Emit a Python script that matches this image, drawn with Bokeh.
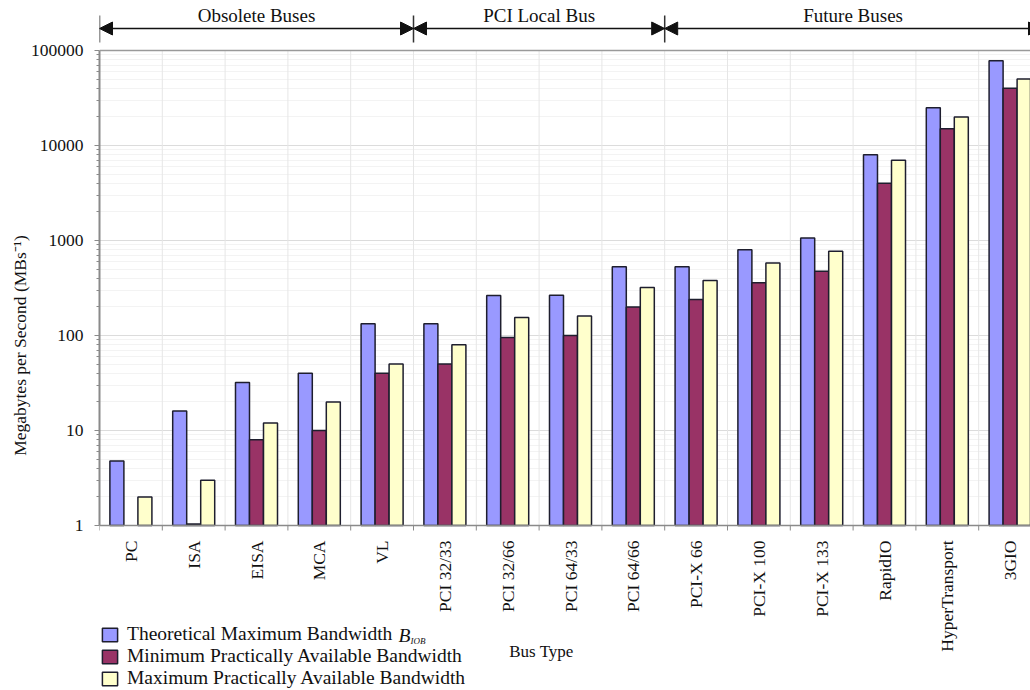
import math
from bokeh.plotting import figure
from bokeh.models import (Range1d, FixedTicker, Legend, LegendItem, Label, Arrow,
                          NormalHead, Span, ColumnDataSource, NumeralTickFormatter)
from bokeh.core.properties import value
from bokeh.embed import file_html
from bokeh.resources import INLINE

# ---------------- data ----------------
categories = ["PC", "ISA", "EISA", "MCA", "VL", "PCI 32/33", "PCI 32/66", "PCI 64/33",
              "PCI 64/66", "PCI-X 66", "PCI-X 100", "PCI-X 133", "RapidIO",
              "HyperTransport", "3GIO"]
theoretical_max = [4.77, 16, 32, 40, 133, 133, 264, 266, 528, 528, 800, 1064, 8000, 25000, 78000]
min_available = [float("nan"), 1.04, 8, 10, 40, 50, 95, 100, 200, 240, 360, 475, 4000, 15000, 40000]
max_available = [2, 3, 12, 20, 50, 80, 155, 160, 320, 380, 580, 770, 7000, 20000, 50000]

series_names = ["Theoretical Maximum Bandwidth",
                "Minimum Practically Available Bandwidth",
                "Maximum Practically Available Bandwidth"]
series_colors = ["#9999FF", "#993366", "#FFFFCC"]

group_names = ["Obsolete Buses", "PCI Local Bus", "Future Buses"]
group_first = [0, 5, 9]          # index of first category in each group
group_last = [4, 8, 14]          # index of last category in each group

y_ticks = [1, 10, 100, 1000, 10000, 100000]

# ---------------- layout helpers ----------------
FONT = "Liberation Serif"
INK = "#111111"
FIG_W, FIG_H = 1030, 690
LEFT = 99                 # frame left edge (px)
Y1_PX = 525               # screen y of the value 1
CAT_PX = 62.8             # width of one category (px)
DECADE_PX = 95.0          # height of one decade (px)
x_start = -0.5
x_end = x_start + (FIG_W - LEFT) / CAT_PX


def y_at(py):
    """data value at screen row py"""
    return 10 ** ((Y1_PX - py) / DECADE_PX)


def x_at(px):
    """data x at screen column px"""
    return x_start + (px - LEFT) / CAT_PX


n = len(categories)
centers = list(range(n))
boundaries = [i - 0.5 for i in range(n + 1)]
minor_y = [m * 10 ** d for d in range(0, 5) for m in range(2, 10)]

p = figure(width=FIG_W, height=FIG_H, y_axis_type="log", x_axis_location=None,
           x_range=Range1d(x_start, x_end), y_range=Range1d(y_at(FIG_H), y_at(0)),
           output_backend="svg", toolbar_location=None,
           min_border_left=LEFT, min_border_right=0, min_border_top=0,
           min_border_bottom=0)
p.outline_line_color = None
p.background_fill_color = "white"
p.border_fill_color = "white"

# grid
p.xgrid.visible = False
p.ygrid.ticker = FixedTicker(ticks=y_ticks, minor_ticks=minor_y)
p.ygrid.grid_line_color = "#dcdcdc"
p.ygrid.minor_grid_line_color = "#f3f3f3"
p.segment(x0=boundaries[1:-1], y0=[1] * (n - 1), x1=boundaries[1:-1],
          y1=[y_ticks[-1]] * (n - 1), line_color="#e6e6e6", line_width=1)
p.add_layout(Span(location=y_ticks[-1], dimension="width", line_color="#9a9a9a", line_width=1.5))

# bars
bar_w = 0.223
offsets = [-bar_w, 0, bar_w]
renderers = []
for vals, off, col in zip([theoretical_max, min_available, max_available], offsets, series_colors):
    src = ColumnDataSource(dict(x=[c + off for c in centers], top=vals, bottom=[1] * n))
    r = p.vbar(x="x", top="top", bottom="bottom", width=bar_w, source=src,
               fill_color=col, line_color="#1e1e2e", line_width=1.5)
    renderers.append(r)

# category axis line at value 1, boundary tick marks, category labels
p.add_layout(Span(location=1, dimension="width", line_color="#8a8a8a", line_width=1.5))
p.segment(x0=boundaries, y0=[1] * (n + 1), x1=boundaries, y1=[y_at(Y1_PX + 5)] * (n + 1),
          line_color="#8a8a8a", line_width=1)
csrc = ColumnDataSource(dict(x=centers, y=[y_at(Y1_PX + 15)] * n, text=categories))
p.text(x="x", y="y", text="text", source=csrc, angle=math.pi / 2,
       text_align="right", text_baseline="middle",
       text_font=value(FONT), text_font_size="17.5px", text_color=INK)
p.text(x=[x_at(541)], y=[y_at(651)], text=["Bus Type"], text_align="center",
       text_baseline="middle", text_font=value(FONT), text_font_size="17px", text_color=INK)

# y axis
yax = p.yaxis[0]
yax.ticker = FixedTicker(ticks=y_ticks, minor_ticks=minor_y)
yax.formatter = NumeralTickFormatter(format="0")
yax.bounds = (1, y_ticks[-1])
yax.axis_line_color = "#8a8a8a"
yax.axis_line_width = 2
yax.major_tick_line_color = "#8a8a8a"
yax.minor_tick_line_color = "#8a8a8a"
yax.major_tick_out = 5
yax.major_tick_in = 0
yax.minor_tick_out = 3
yax.minor_tick_in = 0
yax.major_label_standoff = 11
yax.major_label_text_font = FONT
yax.major_label_text_font_size = "17.5px"
yax.major_label_text_color = INK
yax.axis_label = "Megabytes per Second (MBs\u207b\u00b9)"
yax.axis_label_text_font = FONT
yax.axis_label_text_font_size = "17.5px"
yax.axis_label_text_font_style = "normal"
yax.axis_label_text_color = INK
yax.axis_label_standoff = -2

# group annotations above the plot area
y_arrow = y_at(28)
sep_x = [boundaries[g] for g in group_first] + [boundaries[group_last[-1] + 1]]
p.segment(x0=sep_x, y0=[y_at(15)] * len(sep_x), x1=sep_x, y1=[y_at(42)] * len(sep_x),
          line_color="#333333", line_width=1.5)
for a, b in zip(group_first, group_last):
    p.add_layout(Arrow(x_start=boundaries[a], x_end=boundaries[b + 1],
                       y_start=y_arrow, y_end=y_arrow, line_color=INK, line_width=1.5,
                       start=NormalHead(size=13, fill_color=INK, line_color=INK),
                       end=NormalHead(size=13, fill_color=INK, line_color=INK)))
gsrc = ColumnDataSource(dict(
    x=[(boundaries[a] + boundaries[b + 1]) / 2 for a, b in zip(group_first, group_last)],
    y=[y_at(15)] * len(group_names), text=group_names))
p.text(x="x", y="y", text="text", source=gsrc, text_align="center", text_baseline="middle",
       text_font=value(FONT), text_font_size="19px", text_color=INK)

# legend (inside the frame, bottom-left)
LEG_FS = 19.5
legend = Legend(items=[LegendItem(label=nm, renderers=[r]) for nm, r in zip(series_names, renderers)],
                location=(1, 1), orientation="vertical", border_line_color=None,
                background_fill_alpha=0, padding=0, margin=0, spacing=0,
                glyph_width=19, glyph_height=17, label_height=20, label_standoff=8,
                label_text_font=FONT, label_text_font_size=f"{LEG_FS}px",
                label_text_color=INK)
p.add_layout(legend)

b_x = 1 + 19 + 8 + 13.55 * LEG_FS + 0.35 * LEG_FS
row1_y = FIG_H - 635
p.add_layout(Label(x=b_x, y=row1_y, x_units="screen", y_units="screen", text="B",
                   text_align="left", text_baseline="middle", text_font=FONT,
                   text_font_style="italic", text_font_size=f"{LEG_FS}px", text_color=INK))
p.add_layout(Label(x=b_x + 12, y=row1_y - 5, x_units="screen", y_units="screen", text="IOB",
                   text_align="left", text_baseline="middle", text_font=FONT,
                   text_font_style="italic", text_font_size="9px", text_color=INK))

open("out.html", "w").write(file_html(p, INLINE))
